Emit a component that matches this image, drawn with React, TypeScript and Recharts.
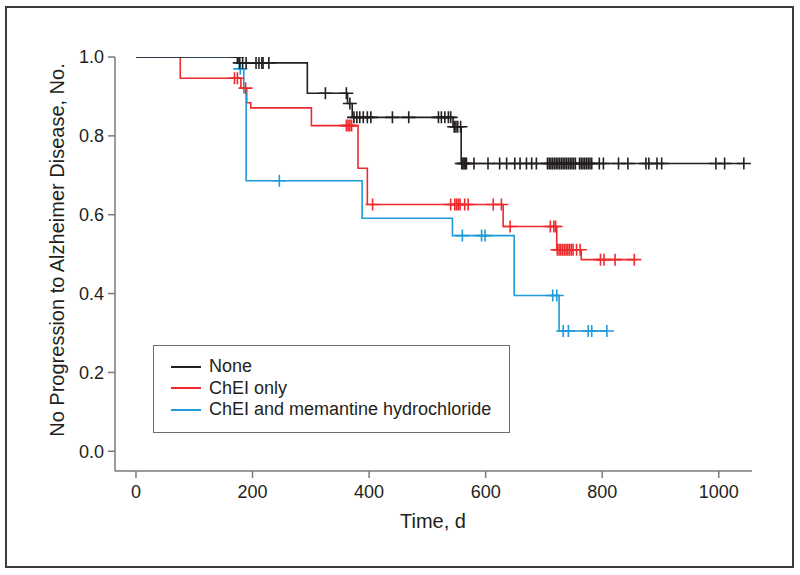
import { ComposedChart, Line, Scatter, XAxis, YAxis, Legend } from 'recharts';

const dayTicks = [0, 200, 400, 600, 800, 1000];
const survTicks = [0, 0.2, 0.4, 0.6, 0.8, 1.0];

// None: step times and survival after each step, then censored times
const noneDays = [0, 175, 294, 363, 371, 544, 558, 1043];
const noneSurv = [1.0, 0.985, 0.908, 0.882, 0.847, 0.823, 0.73, 0.73];
const noneCensored = [
  174, 178, 183, 189, 206, 211, 216, 218, 228, 325, 361, 367, 374, 379, 384, 390, 397, 403,
  440, 468, 519, 524, 530, 536, 540, 546, 549, 552, 557, 559, 561, 563, 565, 567, 580, 604,
  624, 636, 650, 659, 670, 679, 687, 706, 709, 712, 715, 718, 721, 724, 727, 730, 733, 736,
  739, 742, 745, 748, 751, 754, 761, 764, 767, 770, 773, 776, 779, 782, 795, 802, 828, 844,
  875, 880, 894, 902, 995, 1010, 1043,
];

// ChEI only
const chei_days = [0, 76, 180, 190, 197, 301, 381, 397, 630, 722, 764, 855];
const chei_surv = [1.0, 0.946, 0.921, 0.884, 0.871, 0.826, 0.718, 0.626, 0.57, 0.511, 0.486, 0.486];
const chei_censored = [
  169, 174, 188, 361, 364, 367, 370, 406, 540, 547, 550, 553, 556, 564, 570, 613, 627, 642,
  711, 717, 720, 723, 726, 729, 732, 735, 738, 741, 744, 747, 750, 756, 762, 797, 803, 822, 855,
];

// ChEI and memantine hydrochloride
const memDays = [0, 177, 185, 189, 388, 543, 649, 726, 808];
const memSurv = [1.0, 0.97, 0.91, 0.686, 0.591, 0.547, 0.395, 0.305, 0.305];
const memCensored = [179, 246, 560, 593, 599, 715, 722, 733, 742, 776, 782, 808];

const legendLabels = ['None', 'ChEI only', 'ChEI and memantine hydrochloride'];

const INK = '#231f20';
const RED = '#ee2a2e';
const BLUE = '#1f9bd7';
const legendColors = [INK, RED, BLUE];
const FONT = '"Liberation Sans", Arial, sans-serif';

function toSteps(days: number[], surv: number[]) {
  return days.map((t, i) => ({ t, s: surv[i] }));
}

function survAt(days: number[], surv: number[], t: number) {
  let s = surv[0];
  for (let i = 0; i < days.length; i++) if (days[i] <= t) s = surv[i];
  return s;
}

function toCensors(days: number[], surv: number[], times: number[]) {
  return times.map(t => ({ t, s: survAt(days, surv, t) }));
}

const noneSteps = toSteps(noneDays, noneSurv);
const cheiSteps = toSteps(chei_days, chei_surv);
const memSteps = toSteps(memDays, memSurv);
const noneMarks = toCensors(noneDays, noneSurv, noneCensored);
const cheiMarks = toCensors(chei_days, chei_surv, chei_censored);
const memMarks = toCensors(memDays, memSurv, memCensored);

const plus = (color: string) => (props: any) => {
  const { cx, cy } = props;
  return (
    <path
      d={`M${cx - 7},${cy}H${cx + 7}M${cx},${cy - 6}V${cy + 6}`}
      stroke={color}
      strokeWidth={1.6}
      fill="none"
    />
  );
};

function LegendBox() {
  return (
    <div
      style={{
        width: 357, height: 88, boxSizing: 'border-box', border: '1.5px solid #6d6d6d',
        background: '#fff', paddingTop: 10, fontFamily: FONT, fontSize: 18, color: INK,
      }}
    >
      {legendLabels.map((label, i) => (
        <div key={label} style={{ display: 'flex', alignItems: 'center', height: 21.5 }}>
          <span style={{ width: 30, height: 2, background: legendColors[i], marginLeft: 17, marginRight: 8 }} />
          <span>{label}</span>
        </div>
      ))}
    </div>
  );
}

const tickStyle = { fill: INK, fontSize: 18, fontFamily: FONT };

export default function App() {
  return (
    <div style={{ position: 'absolute', left: 0, top: 0, width: 800, height: 575, background: '#fff' }}>
      <div
        style={{
          position: 'absolute', left: 5, top: 6, width: 789, height: 562,
          boxSizing: 'border-box', border: '2px solid #3b3b3b',
        }}
      />
      <div style={{ position: 'absolute', left: 0, top: 0 }}>
        <ComposedChart width={800} height={575} margin={{ top: 57, right: 48, left: 15, bottom: 44 }}>
          <XAxis
            dataKey="t"
            type="number"
            domain={[-36, 1057]}
            ticks={dayTicks}
            allowDataOverflow
            height={60}
            tickSize={7}
            tickMargin={7}
            stroke="#7a7a7a"
            strokeWidth={1.5}
            tick={tickStyle}
            label={{
              content: () => (
                <text x={433} y={528} textAnchor="middle" fontFamily={FONT} fontSize={20} fill={INK}>
                  Time, d
                </text>
              ),
            }}
          />
          <YAxis
            dataKey="s"
            type="number"
            domain={[-0.05, 1.0]}
            ticks={survTicks}
            allowDataOverflow
            width={100}
            tickSize={7}
            tickMargin={4}
            stroke="#7a7a7a"
            strokeWidth={1.5}
            tick={tickStyle}
            tickFormatter={(v: number) => v.toFixed(1)}
            label={{
              content: () => (
                <text
                  x={64}
                  y={250}
                  transform="rotate(-90, 64, 250)"
                  textAnchor="middle"
                  fontFamily={FONT}
                  fontSize={20}
                  fill={INK}
                >
                  No Progression to Alzheimer Disease, No.
                </text>
              ),
            }}
          />
          <Legend
            layout="vertical"
            align="center"
            verticalAlign="middle"
            wrapperStyle={{ left: 153, top: 345, width: 357, height: 88 }}
            content={() => <LegendBox />}
          />
          <Line data={cheiSteps} dataKey="s" type="stepAfter" stroke={RED} strokeWidth={1.6} dot={false} activeDot={false} isAnimationActive={false} />
          <Scatter data={cheiMarks} dataKey="s" shape={plus(RED)} isAnimationActive={false} />
          <Line data={memSteps} dataKey="s" type="stepAfter" stroke={BLUE} strokeWidth={1.6} dot={false} activeDot={false} isAnimationActive={false} />
          <Scatter data={memMarks} dataKey="s" shape={plus(BLUE)} isAnimationActive={false} />
          <Line data={noneSteps} dataKey="s" type="stepAfter" stroke={INK} strokeWidth={1.6} dot={false} activeDot={false} isAnimationActive={false} />
          <Scatter data={noneMarks} dataKey="s" shape={plus(INK)} isAnimationActive={false} />
        </ComposedChart>
      </div>
    </div>
  );
}
